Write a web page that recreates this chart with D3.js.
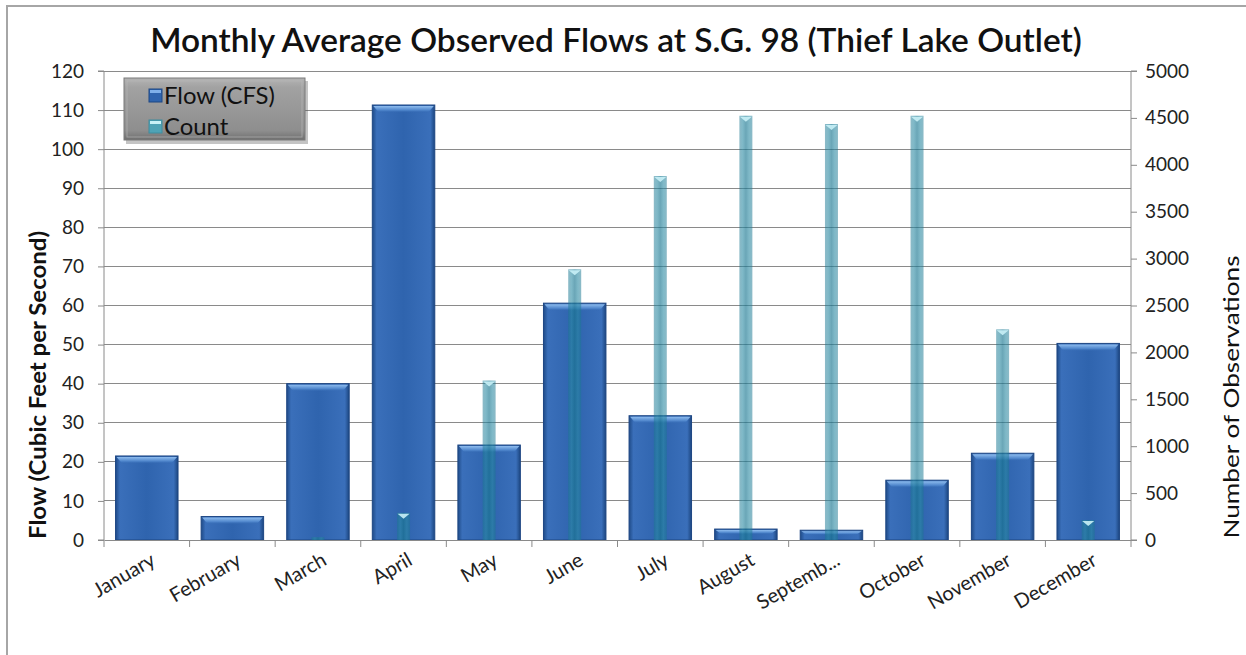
<!DOCTYPE html>
<html>
<head>
<meta charset="utf-8">
<script src="https://cdn.jsdelivr.net/npm/d3@7"></script>
<style>
  html, body { margin: 0; padding: 0; background: #fff; }
  svg { display: block; }
  text { font-family: Lato, "Open Sans", sans-serif; }
</style>
</head>
<body>
<svg id="chart" width="1246" height="655"></svg>
<script>
const months = ["January","February","March","April","May","June","July","August","Septemb...","October","November","December"];
const flowCFS = [21.5, 6.0, 40.0, 111.3, 24.3, 60.6, 31.8, 2.8, 2.5, 15.3, 22.2, 50.3];
const counts = [0, 0, 30, 290, 1700, 2886, 3880, 4523, 4435, 4523, 2246, 213];
const leftTicks = [0,10,20,30,40,50,60,70,80,90,100,110,120];
const rightTicks = [0,500,1000,1500,2000,2500,3000,3500,4000,4500,5000];
const titleText = "Monthly Average Observed Flows at S.G. 98 (Thief Lake Outlet)";
const seriesNames = ["Flow (CFS)", "Count"];

const svg = d3.select("#chart");
const W = 1246, H = 655;
const plot = { left: 104, right: 1131, top: 71, bottom: 540 };

// defs
const defs = svg.append("defs");
function hGrad(id, stops) {
  const g = defs.append("linearGradient").attr("id", id).attr("x1", "0%").attr("x2", "100%").attr("y1", "0%").attr("y2", "0%");
  stops.forEach(s => g.append("stop").attr("offset", s[0]).attr("stop-color", s[1]).attr("stop-opacity", s[2] == null ? 1 : s[2]));
}
function vGrad(id, stops) {
  const g = defs.append("linearGradient").attr("id", id).attr("x1", "0%").attr("x2", "0%").attr("y1", "0%").attr("y2", "100%");
  stops.forEach(s => g.append("stop").attr("offset", s[0]).attr("stop-color", s[1]).attr("stop-opacity", s[2] == null ? 1 : s[2]));
}
hGrad("flowGrad", [["0%","#1f4b88"],["7%","#3a6fba"],["50%","#2f64ae"],["93%","#3a6fba"],["100%","#1c4680"]]);
vGrad("flowTop", [["0%","#8ebcee"],["60%","#4f86cc"],["100%","#2f64ae",0]]);
hGrad("countGrad", [["0%","#1a7690",0.5],["25%","#2a8aa3",0.6],["50%","#1a7690",0.65],["75%","#2a8aa3",0.6],["100%","#1a7690",0.5]]);
vGrad("legendGrad", [["0%","#b4b4b4"],["15%","#a2a2a2"],["85%","#8e8e8e"],["100%","#6e6e6e"]]);

// outer frame
svg.append("rect").attr("x", 0).attr("y", 0).attr("width", W).attr("height", H).attr("fill", "#fff");
svg.append("path").attr("d", `M7,${H} L7,6 L${W},6`).attr("fill", "none").attr("stroke", "#a6a6a6").attr("stroke-width", 2);

const x = d3.scaleBand().domain(months).range([plot.left, plot.right]).paddingInner(0.27).paddingOuter(0.135);
const xb = d3.scaleBand().domain(months).range([plot.left, plot.right]);
const yL = d3.scaleLinear().domain([0, 120]).range([plot.bottom, plot.top]);
const yR = d3.scaleLinear().domain([0, 5000]).range([plot.bottom, plot.top]);

// gridlines
svg.append("g").selectAll("line").data(leftTicks.filter(t => t > 0)).join("line")
  .attr("x1", plot.left).attr("x2", plot.right)
  .attr("y1", d => yL(d)).attr("y2", d => yL(d))
  .attr("stroke", "#8a8a8a").attr("stroke-width", 1).attr("shape-rendering", "crispEdges");

// flow bars
const fb = svg.append("g").selectAll("g").data(months).join("g");
fb.append("rect")
  .attr("x", d => x(d)).attr("width", x.bandwidth())
  .attr("y", (d, i) => yL(flowCFS[i])).attr("height", (d, i) => yL(0) - yL(flowCFS[i]))
  .attr("fill", "url(#flowGrad)").attr("stroke", "#1d4683").attr("stroke-width", 1);
fb.append("path")
  .attr("d", (d, i) => {
    const x0 = x(d), x1 = x(d) + x.bandwidth(), y0 = yL(flowCFS[i]);
    const h = Math.min(8, (yL(0) - y0) / 2);
    return `M${x0 + 1},${y0 + 1} L${x1 - 1},${y0 + 1} L${x1 - 7},${y0 + h} L${x0 + 7},${y0 + h} Z`;
  })
  .attr("fill", "url(#flowTop)");

// count bars
const cw = 13;
const cb = svg.append("g").selectAll("g").data(months).join("g");
cb.append("rect")
  .attr("x", d => xb(d) + xb.bandwidth() / 2 - cw / 2).attr("width", cw)
  .attr("y", (d, i) => yR(counts[i])).attr("height", (d, i) => yR(0) - yR(counts[i]))
  .attr("fill", "url(#countGrad)");
cb.filter(d => counts[months.indexOf(d)] > 100).append("path")
  .attr("d", d => {
    const v = counts[months.indexOf(d)];
    const cx = xb(d) + xb.bandwidth() / 2, y0 = yR(v);
    return `M${cx - 6},${y0 + 1} L${cx + 6},${y0 + 1} L${cx},${y0 + 6} Z`;
  })
  .attr("fill", "#c9f1f7").attr("opacity", 0.9);

// axes
const axisColor = "#8a8a8a";
const gL = svg.append("g").attr("transform", `translate(${plot.left},0)`)
  .call(d3.axisLeft(yL).tickValues(leftTicks).tickSize(6).tickPadding(14));
const gR = svg.append("g").attr("transform", `translate(${plot.right},0)`)
  .call(d3.axisRight(yR).tickValues(rightTicks).tickFormat(d3.format("d")).tickSize(6).tickPadding(8));
const gB = svg.append("g").attr("transform", `translate(0,${plot.bottom})`)
  .call(d3.axisBottom(x).tickSize(0).tickFormat(""));
[gL, gR, gB].forEach(g => {
  g.select(".domain").attr("stroke", axisColor);
  g.selectAll(".tick line").attr("stroke", axisColor);
  g.selectAll("text").attr("fill", "#222").attr("font-size", 19).attr("font-family", "Lato, 'Open Sans', sans-serif");
});
gL.select(".domain").attr("d", `M-6,${plot.top}H0V${plot.bottom}H-6`);
gR.select(".domain").attr("d", `M6,${plot.top}H0V${plot.bottom}H6`);

// category boundary ticks
svg.append("g").selectAll("line").data(months.concat(["_end"])).join("line")
  .attr("x1", (d, i) => plot.left + i * xb.bandwidth()).attr("x2", (d, i) => plot.left + i * xb.bandwidth())
  .attr("y1", plot.bottom).attr("y2", plot.bottom + 7)
  .attr("stroke", axisColor);

// x labels
svg.append("g").selectAll("text").data(months).join("text")
  .attr("transform", d => `translate(${xb(d) + xb.bandwidth() / 2 + 10},${plot.bottom + 24}) rotate(-30)`)
  .attr("text-anchor", "end")
  .attr("font-size", 20).attr("fill", "#222")
  .text(d => d);

// title
const title = svg.append("text").attr("x", 616).attr("y", 52).attr("text-anchor", "middle")
  .attr("font-size", 31).attr("font-weight", 600).attr("fill", "#111").text(titleText);
const tl = title.node().getComputedTextLength();
title.attr("font-size", 31 * 932 / tl);

// axis titles
function fitText(sel, size, target) {
  const len = sel.node().getComputedTextLength();
  sel.attr("font-size", size * target / len);
}
svg.append("text").attr("transform", `translate(46,385) rotate(-90)`).attr("text-anchor", "middle")
  .attr("font-size", 22).attr("font-weight", 700).attr("fill", "#111")
  .attr("textLength", 308).attr("lengthAdjust", "spacingAndGlyphs")
  .text("Flow (Cubic Feet per Second)");
svg.append("text").attr("transform", `translate(1239,397) rotate(-90)`).attr("text-anchor", "middle")
  .attr("font-size", 21).attr("fill", "#111")
  .attr("textLength", 283).attr("lengthAdjust", "spacingAndGlyphs")
  .text("Number of Observations");

// legend
const lg = svg.append("g").attr("transform", "translate(124,78)");
lg.append("rect").attr("x", 2).attr("y", 3).attr("width", 182).attr("height", 63).attr("fill", "#555").attr("opacity", 0.35);
lg.append("rect").attr("width", 181).attr("height", 62).attr("fill", "url(#legendGrad)").attr("stroke", "#7a7a7a");
lg.append("rect").attr("x", 3).attr("y", 3).attr("width", 175).attr("height", 56).attr("fill", "none").attr("stroke", "#bdbdbd").attr("opacity", 0.6);
const legColors = ["#2f64ae", "#4fa3b6"];
seriesNames.forEach((name, i) => {
  const yy = 18 + i * 31;
  lg.append("rect").attr("x", 25).attr("y", yy - 7).attr("width", 13).attr("height", 13)
    .attr("fill", legColors[i]).attr("stroke", i === 0 ? "#1d4683" : "#3f8c9e");
  lg.append("rect").attr("x", 26).attr("y", yy - 6).attr("width", 11).attr("height", 3)
    .attr("fill", i === 0 ? "#7fb0ea" : "#c9f1f7");
  const t = lg.append("text").attr("x", 40).attr("y", yy + 8).attr("font-size", 22).attr("fill", "#111").text(name);
  if (i === 0) fitText(t, 22, 111);
  else t.attr("font-size", lg.select("text").attr("font-size"));
});
</script>
</body>
</html>
